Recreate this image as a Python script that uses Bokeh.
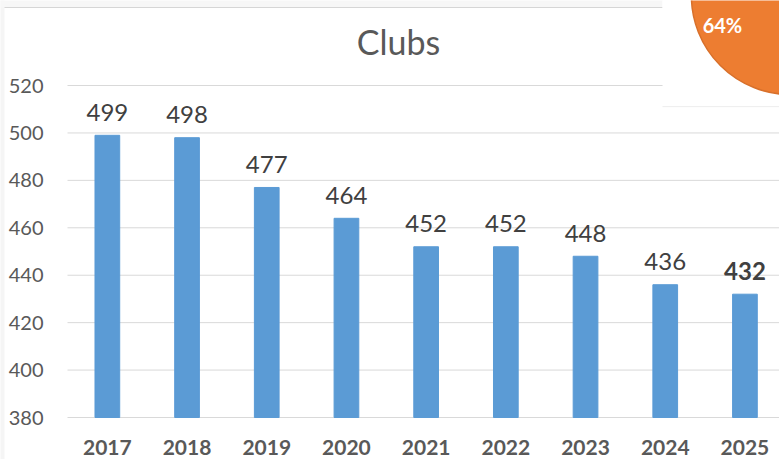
from bokeh.plotting import figure
from bokeh.models import Range1d, ColumnDataSource, Label
from bokeh.core.properties import value
from bokeh.embed import file_html
from bokeh.resources import INLINE

years = ["2017", "2018", "2019", "2020", "2021", "2022", "2023", "2024", "2025"]
clubs = [499, 498, 477, 464, 452, 452, 448, 436, 432]
y_ticks = [380, 400, 420, 440, 460, 480, 500, 520]
title_text = "Clubs"
badge_text = "64%"

FONT = "Lato"
BASE = 380
X0, X1 = -0.8407, 8.9337
Y0, Y1 = 362.29, 555.85
xs = [i + 0.5 for i in range(len(years))]
styles = ["bold" if i == len(years) - 1 else "normal" for i in range(len(years))]
src = ColumnDataSource(dict(x=xs, top=clubs, lbl=[str(v) for v in clubs], st=styles,
                            yr=years, base=[BASE] * len(years)))
tick_src = ColumnDataSource(dict(y=y_ticks, t=[str(v) for v in y_ticks],
                                 x0=[0] * len(y_ticks), x1=[X1] * len(y_ticks)))

p = figure(width=779, height=459, output_backend="svg", toolbar_location=None,
           x_range=Range1d(X0, X1), y_range=Range1d(Y0, Y1),
           min_border_left=0, min_border_right=0, min_border_top=0, min_border_bottom=0)
p.outline_line_color = None
p.background_fill_color = "white"
p.border_fill_color = "white"
p.xaxis.visible = False
p.yaxis.visible = False
p.xgrid.grid_line_color = None
p.ygrid.grid_line_color = None

# slide backdrop pieces (left strip, top band)
p.quad(left=X0 - 1, right=X0 + 4 / 79.7, bottom=Y0 - 10, top=Y1 + 10,
       fill_color="#F5F5F5", line_color=None)
p.quad(left=X0 - 1, right=7.466, bottom=552.9, top=Y1 + 10,
       fill_color="#F7F7F7", line_color=None)
p.segment(x0=X0 + 4 / 79.7, y0=552.9, x1=7.466, y1=552.9, line_color="#D6D6D6", line_width=1)

# gridlines + y tick labels
p.segment(x0="x0", y0="y", x1="x1", y1="y", source=tick_src, line_color="#D9D9D9", line_width=1)
p.text(x="x0", y="y", text="t", source=tick_src, text_align="right", text_baseline="middle",
       x_offset=-24, text_font=value(FONT), text_font_size="20px", text_color="#595959")

p.vbar(x="x", top="top", bottom=BASE, width=0.31, source=src,
       fill_color="#5B9BD5", line_color="#5B9BD5")
p.text(x="x", y="top", text="lbl", source=src, text_align="center",
       text_baseline="alphabetic", y_offset=-23, text_font=value(FONT),
       text_font_size="24px", text_color="#404040", text_font_style="st")
# category labels under the baseline
p.text(x="x", y="base", text="yr", source=src, text_align="center",
       text_baseline="alphabetic", y_offset=30, text_font=value(FONT),
       text_font_size="21px", text_font_style="bold", text_color="#595959")

# white panel with badge (top-right overlay)
p.quad(left=7.466, right=9.5, bottom=511.1, top=560, fill_color="white", line_color=None)
p.segment(x0=7.466, y0=511.1, x1=9.5, y1=511.1, line_color="#EDEDED", line_width=1)
p.scatter(x=9.07, y=557.95, size=198, marker="circle", fill_color="#ED7D31",
          line_color="#D8702B", line_width=1.5)
p.text(x=8.218, y=545.7, text=[badge_text], text_align="center", text_baseline="middle",
       text_font=value(FONT), text_font_size="20px", text_font_style="bold",
       text_color="white")

p.add_layout(Label(x=4.153, y=538.55, text=title_text, text_align="center",
                   text_baseline="middle", text_font=FONT, text_font_size="34px",
                   text_color="#595959"))

open("out.html", "w").write(file_html(p, INLINE))
